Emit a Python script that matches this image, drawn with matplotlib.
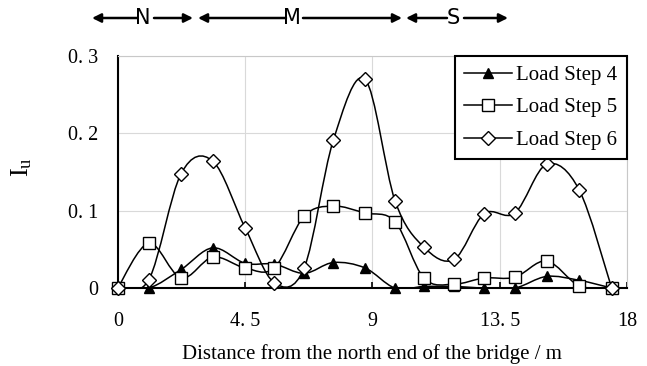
import numpy as np
import matplotlib
matplotlib.use('Agg')
import matplotlib.pyplot as plt
from matplotlib.path import Path
from matplotlib.patches import PathPatch

# distancia de cada punto de medida (m)
dist = [0, 1.1, 2.24, 3.36, 4.5, 5.53, 6.59, 7.62, 8.74, 9.8, 10.82, 11.89,
        12.95, 14.04, 15.16, 16.31, 17.46]

step4 = [0.0, 0.0, 0.024, 0.052, 0.032, 0.031, 0.019, 0.033, 0.026, 0.0,
         0.002, 0.002, 0.0, 0.0, 0.015, 0.010, 0.0]
step5 = [0.0, 0.058, 0.013, 0.040, 0.026, 0.026, 0.093, 0.106, 0.097, 0.086,
         0.013, 0.005, 0.013, 0.014, 0.035, 0.003, 0.0]
step6 = [0.0, 0.011, 0.148, 0.164, 0.078, 0.007, 0.026, 0.191, 0.270, 0.113,
         0.053, 0.037, 0.096, 0.097, 0.160, 0.127, 0.0]

series_names = ['Load Step 4', 'Load Step 5', 'Load Step 6']
xticks = [0, 4.5, 9, 13.5, 18]
xtick_labels = ['0', '4. 5', '9', '13. 5', '18']
yticks = [0, 0.1, 0.2, 0.3]
ytick_labels = ['0', '0. 1', '0. 2', '0. 3']

# zonas del puente arriba del grafico: (letra, x izq, x letra, x der) en pixeles
zones = [('N', 92, 143, 193), ('M', 198, 292, 402), ('S', 406, 453, 508)]


def smooth_path(x, y):
    # curva suavizada tipo Excel (Catmull-Rom con Bezier cubicas)
    p = np.column_stack([x, y])
    verts = [p[0]]
    codes = [Path.MOVETO]
    n = len(p)
    for i in range(n - 1):
        p0 = p[i - 1] if i > 0 else p[i]
        p3 = p[i + 2] if i + 2 < n else p[i + 1]
        c1 = p[i] + (p[i + 1] - p0) / 6
        c2 = p[i + 1] - (p3 - p[i]) / 6
        verts += [c1, c2, p[i + 1]]
        codes += [Path.CURVE4] * 3
    return Path(verts, codes)


plt.rcParams['font.family'] = ['Liberation Serif', 'DejaVu Serif']

fig = plt.figure(figsize=(6.47, 3.66), dpi=100)
ax = fig.add_axes([0.182, 0.213, 0.787, 0.634])

styles = [dict(marker='^', mfc='black', ms=7.5),
          dict(marker='s', mfc='white', ms=8.5),
          dict(marker='D', mfc='white', ms=7)]

for ys, name, st in zip([step4, step5, step6], series_names, styles):
    ax.add_patch(PathPatch(smooth_path(dist, ys), fill=False, lw=1.1,
                           edgecolor='black', zorder=3))
    ax.plot(dist, ys, ls='none', mec='black', mew=1.0, zorder=4,
            clip_on=False, **st)
    ax.plot([], [], color='black', lw=1.1, mec='black', mew=1.0,
            label=name, **st)

ax.set_xlim(0, 18)
ax.set_ylim(0, 0.3)
ax.set_xticks(xticks)
ax.set_xticklabels(xtick_labels)
ax.set_yticks(yticks)
ax.set_yticklabels(ytick_labels)
ax.grid(True, color='#d9d9d9', lw=0.8)
ax.set_axisbelow(True)
ax.tick_params(direction='in', length=4, width=1.2, labelsize=14.5, pad=17)
ax.tick_params(axis='y', length=0, pad=14)

ax.spines['left'].set_linewidth(1.5)
ax.spines['bottom'].set_linewidth(1.5)
ax.spines['top'].set_color('#c8c8c8')
ax.spines['right'].set_color('#c8c8c8')
ax.spines['top'].set_linewidth(0.8)
ax.spines['right'].set_linewidth(0.8)

ax.set_xlabel('Distance from the north end of the bridge / m', fontsize=15,
              labelpad=10)
ax.set_ylabel(r'$\mathregular{I_u}$', fontsize=19)
ax.yaxis.set_label_coords(-0.165, 0.52)

leg = ax.legend(loc='upper right', fontsize=15, frameon=True, fancybox=False,
                borderaxespad=0, handlelength=2.3, handletextpad=0.2,
                labelspacing=0.62, borderpad=0.45)
leg.get_frame().set_edgecolor('black')
leg.get_frame().set_linewidth(1.5)
leg.get_frame().set_alpha(1)

# flechas de zonas
H = 366
yy = H - 18
for letter, x0, xl, x1 in zones:
    fig.text(xl / 647, yy / H, letter, ha='center', va='center', fontsize=15,
             family=['Liberation Sans Narrow', 'DejaVu Sans'])
    ax.annotate('', xy=(x0, yy), xytext=(xl - 6, yy), xycoords='figure pixels',
                textcoords='figure pixels',
                arrowprops=dict(arrowstyle='-|>', lw=1.8, color='black',
                                mutation_scale=13, shrinkA=0, shrinkB=0))
    ax.annotate('', xy=(x1, yy), xytext=(xl + 11, yy), xycoords='figure pixels',
                textcoords='figure pixels',
                arrowprops=dict(arrowstyle='-|>', lw=1.8, color='black',
                                mutation_scale=13, shrinkA=0, shrinkB=0))

fig.savefig('out.png', dpi=100)
